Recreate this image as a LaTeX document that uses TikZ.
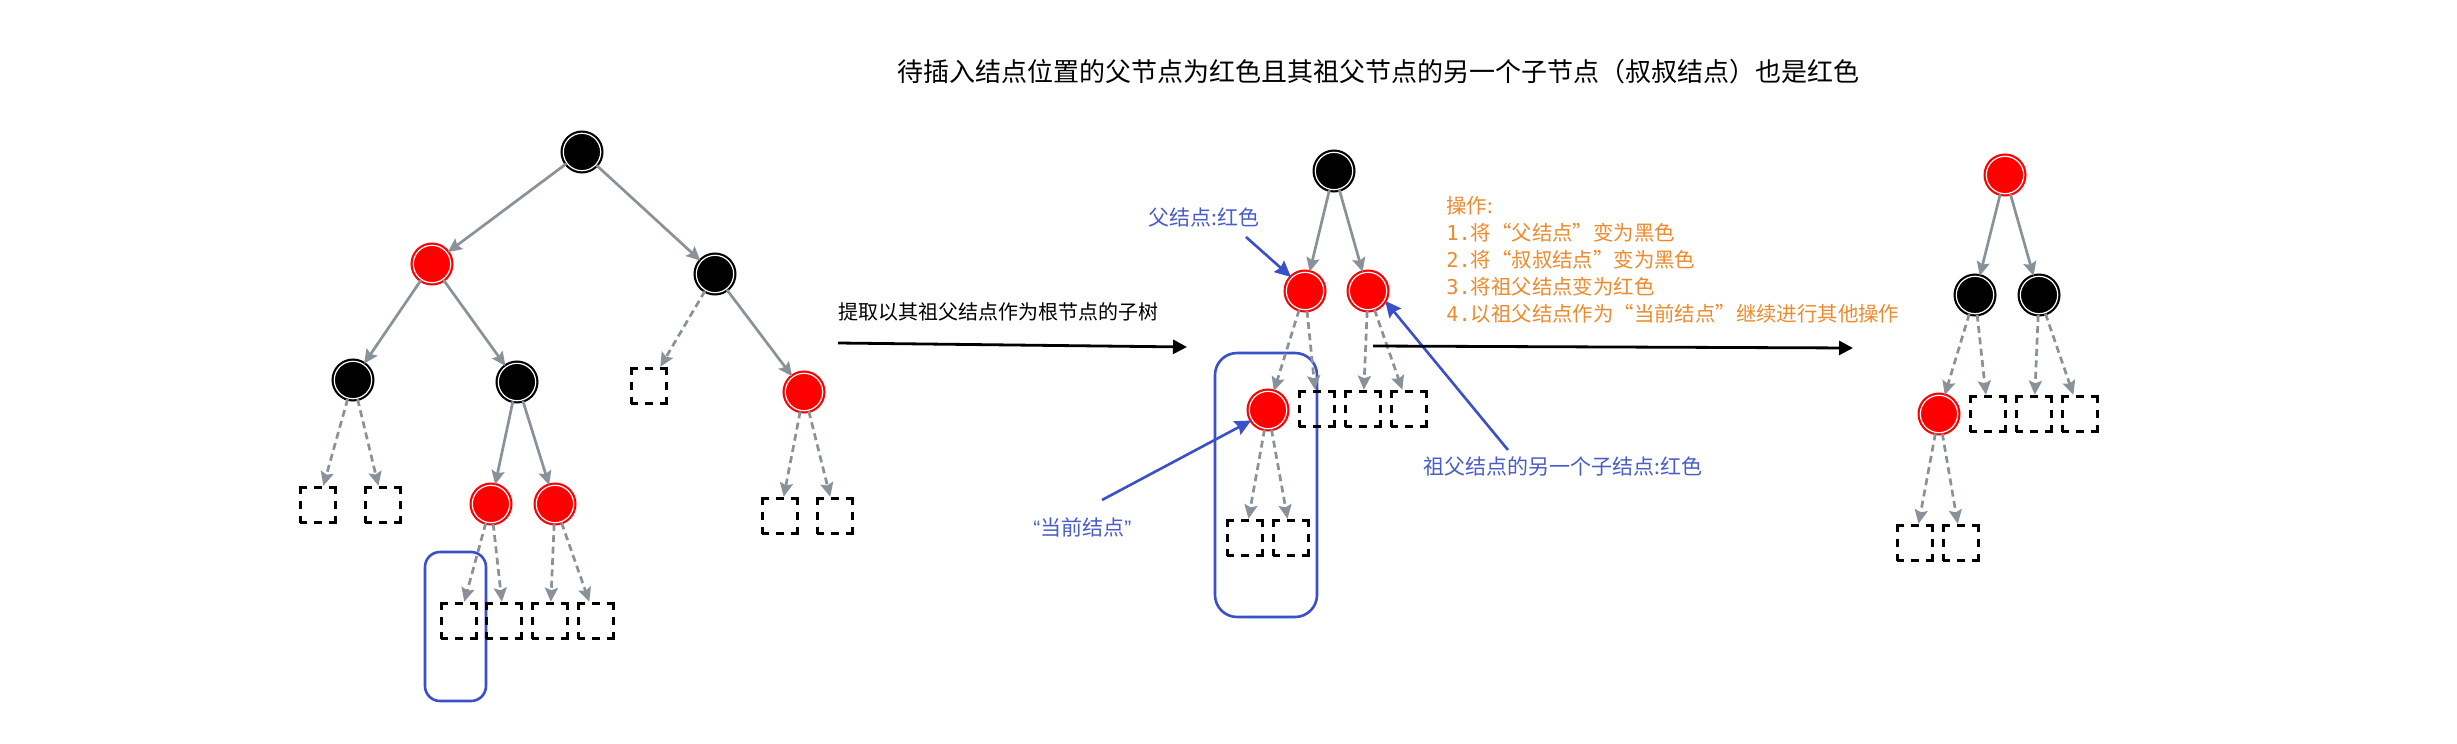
\documentclass[tikz,border=0pt]{standalone}
\usepackage{fontspec}
\setmainfont{Noto Sans CJK SC}
\newfontfamily\monof{DejaVu Sans Mono}
\newfontfamily\latinf{Liberation Sans}
\usetikzlibrary{arrows.meta}
\definecolor{edgegray}{HTML}{8A9299}
\definecolor{bluec}{HTML}{3A50C8}
\definecolor{bluetext}{HTML}{4A5CC8}
\definecolor{orangec}{HTML}{EE8A2B}
\begin{document}
\begin{tikzpicture}[x=0.5pt,y=-0.5pt,
  rb/.style={circle, inner sep=0pt, minimum size=18.7pt, line width=1.1pt, double distance=0.6pt},
  bn/.style={rb, fill=black, draw=black, double=white},
  rn/.style={rb, fill=red, draw=red, double=white},
  nil/.style={rectangle, draw=black, line width=1.5pt, minimum size=17.7pt, inner sep=0pt,
    dash pattern=on 7.08pt off 3.54pt on 3.54pt off 3.54pt, dash phase=3.54pt},
  tedge/.style={draw=edgegray, line width=1.35pt, -{Stealth[length=7pt,width=6.5pt,inset=1.2pt]}},
  dedge/.style={tedge, dash pattern=on 3.5pt off 2.2pt},
  bigarrow/.style={draw=black, line width=1.4pt, -{Triangle[length=7pt,width=7pt]}},
  bluearrow/.style={draw=bluec, line width=1.3pt, -{Stealth[length=8pt,width=7.5pt,inset=1pt]}},
  bluebox/.style={draw=bluec, line width=1.3pt},
  txt/.style={inner sep=0pt, font=\fontsize{10pt}{12pt}\selectfont},
  bluetxt/.style={inner sep=0pt, text=bluetext, font=\fontsize{10.5pt}{12pt}\selectfont}
]
\useasboundingbox (0,0) rectangle (2457,744);
\fill[white] (0,0) rectangle (2457,744);

% title
\node[inner sep=0pt, font=\fontsize{13pt}{15pt}\selectfont] (title) at (1378,72) {待插入结点位置的父节点为红色且其祖父节点的另一个子节点（叔叔结点）也是红色};

% ---------- left tree ----------
\draw[bluebox, rounded corners=7.5pt] (425,552) rectangle (486,701);
\node[bn] (L0) at (582,152) {};
\node[rn] (L1) at (432,264) {};
\node[bn] (L2) at (715,274) {};
\node[bn] (L3) at (353,380) {};
\node[bn] (L4) at (517,382) {};
\node[nil] (L5) at (649,386) {};
\node[rn] (L6) at (804,392) {};
\node[nil] (L7) at (318,505) {};
\node[nil] (L8) at (383,505) {};
\node[rn] (L9) at (491,504) {};
\node[rn] (L10) at (555,504) {};
\node[nil] (L11) at (780,516) {};
\node[nil] (L12) at (835,516) {};
\node[nil] (L13) at (459,621) {};
\node[nil] (L14) at (504,621) {};
\node[nil] (L15) at (550,621) {};
\node[nil] (L16) at (596,621) {};
\draw[tedge] (L0) -- (L1);
\draw[tedge] (L0) -- (L2);
\draw[tedge] (L1) -- (L3);
\draw[tedge] (L1) -- (L4);
\draw[dedge] (L2) -- (L5);
\draw[tedge] (L2) -- (L6);
\draw[dedge] (L3) -- (L7);
\draw[dedge] (L3) -- (L8);
\draw[tedge] (L4) -- (L9);
\draw[tedge] (L4) -- (L10);
\draw[dedge] (L6) -- (L11);
\draw[dedge] (L6) -- (L12);
\draw[dedge] (L9) -- (L13);
\draw[dedge] (L9) -- (L14);
\draw[dedge] (L10) -- (L15);
\draw[dedge] (L10) -- (L16);

% ---------- first arrow ----------
\node[txt, anchor=west] (extract) at (838,312) {提取以其祖父结点作为根节点的子树};
\coordinate (a1s) at (838,343);
\coordinate (a1e) at (1187,347);
\draw[bigarrow] (a1s) -- (a1e);

% ---------- middle tree ----------
\draw[bluebox, rounded corners=11pt] (1215,353) rectangle (1317,617);
\node[bn] (M0) at (1334,171) {};
\node[rn] (M1) at (1305,291) {};
\node[rn] (M2) at (1368,291) {};
\node[rn] (M3) at (1268,410) {};
\node[nil] (M4) at (1317,409) {};
\node[nil] (M5) at (1363,409) {};
\node[nil] (M6) at (1409,409) {};
\node[nil] (M7) at (1245,538) {};
\node[nil] (M8) at (1291,538) {};
\draw[tedge] (M0) -- (M1);
\draw[tedge] (M0) -- (M2);
\draw[dedge] (M1) -- (M3);
\draw[dedge] (M1) -- (M4);
\draw[dedge] (M2) -- (M5);
\draw[dedge] (M2) -- (M6);
\draw[dedge] (M3) -- (M7);
\draw[dedge] (M3) -- (M8);

% labels of middle tree
\node[bluetxt, anchor=west] (lparent) at (1148,218) {父结点:红色};
\coordinate (bp) at (1246,237);
\draw[bluearrow] (bp) -- (M1.135);
\node[bluetxt, anchor=west] (luncle) at (1423,467) {祖父结点的另一个子结点:红色};
\coordinate (bu) at (1508,450);
\draw[bluearrow] (bu) -- (M2.-30);
\node[bluetxt, anchor=west] (lcur) at (1033,527) {{\latinf “}当前结点{\latinf ”}};
\coordinate (bc) at (1102,500);
\draw[bluearrow] (bc) -- (M3.212);

% operations
\node[inner sep=0pt, anchor=west, align=left, text=orangec, font=\fontsize{10.2pt}{13.5pt}\selectfont] (ops) at (1446,260) {操作:\\
{\monof 1.}将“父结点”变为黑色\\
{\monof 2.}将“叔叔结点”变为黑色\\
{\monof 3.}将祖父结点变为红色\\
{\monof 4.}以祖父结点作为“当前结点”继续进行其他操作};

% ---------- second arrow ----------
\coordinate (a2s) at (1373,346);
\coordinate (a2e) at (1853,348);
\draw[bigarrow] (a2s) -- (a2e);

% ---------- right tree ----------
\node[rn] (R0) at (2005,175) {};
\node[bn] (R1) at (1975,295) {};
\node[bn] (R2) at (2039,295) {};
\node[rn] (R3) at (1939,414) {};
\node[nil] (R4) at (1988,414) {};
\node[nil] (R5) at (2034,414) {};
\node[nil] (R6) at (2080,414) {};
\node[nil] (R7) at (1915,543) {};
\node[nil] (R8) at (1961,543) {};
\draw[tedge] (R0) -- (R1);
\draw[tedge] (R0) -- (R2);
\draw[dedge] (R1) -- (R3);
\draw[dedge] (R1) -- (R4);
\draw[dedge] (R2) -- (R5);
\draw[dedge] (R2) -- (R6);
\draw[dedge] (R3) -- (R7);
\draw[dedge] (R3) -- (R8);
\end{tikzpicture}
\end{document}
